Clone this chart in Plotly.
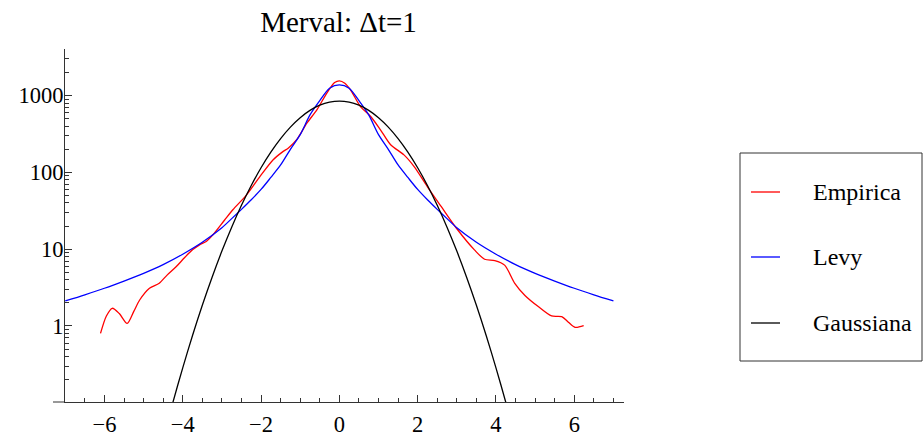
import plotly.graph_objects as go

# ---- data ----
emp_x = [-6.10, -5.95, -5.80, -5.62, -5.42, -5.25, -5.10, -4.85, -4.60, -4.40,
         -4.17, -3.95, -3.75, -3.57, -3.40, -3.23, -2.93, -2.72, -2.37, -2.03,
         -1.69, -1.45, -1.30, -1.09, -0.83, -0.57, -0.32, -0.12, 0.00, 0.14,
         0.28, 0.54, 0.80, 1.05, 1.31, 1.65, 1.91, 2.25, 2.60, 3.02,
         3.45, 3.71, 3.97, 4.22, 4.48, 4.74, 5.08, 5.42, 5.68, 5.85,
         6.02, 6.24]
emp_y = [0.80, 1.35, 1.70, 1.45, 1.08, 1.55, 2.18, 3.1, 3.6, 4.6,
         5.9, 7.8, 9.8, 11.4, 12.6, 15.4, 24, 32.6, 51, 88,
         146, 185, 208, 267, 437, 656, 1080, 1480, 1560, 1450,
         1200, 720, 535, 359, 229, 169, 119, 65, 36, 17.9,
         9.8, 7.4, 7.1, 6.2, 3.6, 2.5, 1.79, 1.35, 1.32, 1.12,
         0.96, 1.01]

levy_x = [-7.0, -6.5, -6.0, -5.5, -5.0, -4.5, -4.0, -3.5, -3.0, -2.75, -2.5,
          -2.25, -2.0, -1.75, -1.5, -1.25, -1.0, -0.75, -0.5, -0.25, 0.0,
          0.25, 0.5, 0.75, 1.0, 1.25, 1.5, 1.75, 2.0, 2.25, 2.5,
          2.75, 3.0, 3.5, 4.0, 4.5, 5.0, 5.5, 6.0, 6.5, 7.0]
levy_y = [2.12, 2.55, 3.1, 3.85, 4.85, 6.3, 8.6, 12.3, 19, 25, 33,
          44, 60, 86, 125, 200, 310, 560, 860, 1250, 1380,
          1250, 860, 560, 310, 200, 125, 86, 60, 44, 33,
          25, 19, 12.3, 8.6, 6.3, 4.85, 3.85, 3.1, 2.55, 2.12]

gauss_x = [-4.5, -4.25, -4.0, -3.75, -3.5, -3.25, -3.0, -2.75, -2.5, -2.25,
           -2.0, -1.75, -1.5, -1.25, -1.0, -0.75, -0.5, -0.25, 0.0,
           0.25, 0.5, 0.75, 1.0, 1.25, 1.5, 1.75, 2.0, 2.25, 2.5,
           2.75, 3.0, 3.25, 3.5, 3.75, 4.0, 4.25, 4.5]
gauss_y = [0.034, 0.1017, 0.285, 0.751, 1.86, 4.32, 9.44, 19.37, 37.35, 67.6,
           115.0, 183.8, 276.0, 389.2, 515.6, 641.6, 750.1, 823.8, 850.0,
           823.8, 750.1, 641.6, 515.6, 389.2, 276.0, 183.8, 115.0, 67.6, 37.35,
           19.37, 9.44, 4.32, 1.86, 0.751, 0.285, 0.1017, 0.034]

series_names = ["Empirica", "Levy", "Gaussiana"]
series_colors = ["#ff0000", "#0000ff", "#000000"]
title_text = "Merval: \u0394t=1"
y_tick_vals = [1, 10, 100, 1000]

FONT = "Liberation Serif"
AXIS_COLOR = "#333333"

fig = go.Figure()
for xs, ys, name, col in zip([emp_x, levy_x, gauss_x], [emp_y, levy_y, gauss_y],
                             series_names, series_colors):
    fig.add_trace(go.Scatter(x=xs, y=ys, mode="lines", name=name,
                             line=dict(color=col, width=1.3, shape="spline", smoothing=0.8),
                             showlegend=False, hoverinfo="x+y+name"))

W, H = 923, 437
ML, MR, MT, MB = 65, 299, 49, 35
PW = W - ML - MR
PH = H - MT - MB

def px_x(px):
    return (px - ML) / PW

def px_y(py):
    return (H - MB - py) / PH

fig.update_layout(
    width=W, height=H,
    margin=dict(l=ML, r=MR, t=MT, b=MB, autoexpand=False),
    paper_bgcolor="white", plot_bgcolor="white",
    font=dict(family=FONT, size=22.5, color="black"),
    title=dict(text=title_text, font=dict(family=FONT, size=29, color="black"),
               x=px_x(338.5), xref="paper", xanchor="center",
               y=0.95, yref="container", yanchor="middle"),
    showlegend=False,
)

fig.update_xaxes(
    range=[-7.007, 7.27], showgrid=False, zeroline=False,
    showline=True, linecolor=AXIS_COLOR, linewidth=1,
    tickmode="linear", tick0=0, dtick=2,
    ticks="inside", ticklen=7, tickcolor=AXIS_COLOR, tickwidth=1,
    ticklabelstandoff=2,
    tickfont=dict(family=FONT, size=22.5, color="black"),
    minor=dict(tickmode="linear", tick0=0, dtick=0.5, ticks="inside",
               ticklen=4, tickcolor=AXIS_COLOR, tickwidth=1, showgrid=False),
)
fig.update_yaxes(
    type="log", range=[-0.99, 3.607], showgrid=False, zeroline=False,
    showline=True, linecolor=AXIS_COLOR, linewidth=1,
    tickmode="array", tickvals=y_tick_vals, ticktext=[str(v) for v in y_tick_vals],
    ticks="inside", ticklen=7, tickcolor=AXIS_COLOR, tickwidth=1,
    ticklabelstandoff=-4,
    tickfont=dict(family=FONT, size=22.5, color="black"),
    minor=dict(dtick="D1", ticks="inside", ticklen=4, tickcolor=AXIS_COLOR,
               tickwidth=1, showgrid=False),
)

# small extension of the x-axis line left of the y-axis (as in the reference)
fig.add_shape(type="line", xref="paper", yref="paper",
              x0=px_x(53), x1=0, y0=0, y1=0,
              line=dict(color=AXIS_COLOR, width=1))

# legend box (drawn by hand to match the reference spacing)
fig.add_shape(type="rect", xref="paper", yref="paper",
              x0=px_x(740), x1=px_x(922), y0=px_y(361), y1=px_y(153),
              line=dict(color=AXIS_COLOR, width=1), fillcolor="white", layer="above")
legend_rows = [192, 257, 323]
for name, col, ry in zip(series_names, series_colors, legend_rows):
    fig.add_shape(type="line", xref="paper", yref="paper",
                  x0=px_x(751), x1=px_x(780), y0=px_y(ry), y1=px_y(ry),
                  line=dict(color=col, width=1.3), layer="above")
    fig.add_annotation(text=name, xref="paper", yref="paper",
                       x=px_x(811), y=px_y(ry), xanchor="left", yanchor="middle",
                       showarrow=False, font=dict(family=FONT, size=24, color="black"))

fig.write_html("out.html",
               config={"displayModeBar": False},
               post_script="document.body.style.margin='0';document.body.style.padding='0';")
